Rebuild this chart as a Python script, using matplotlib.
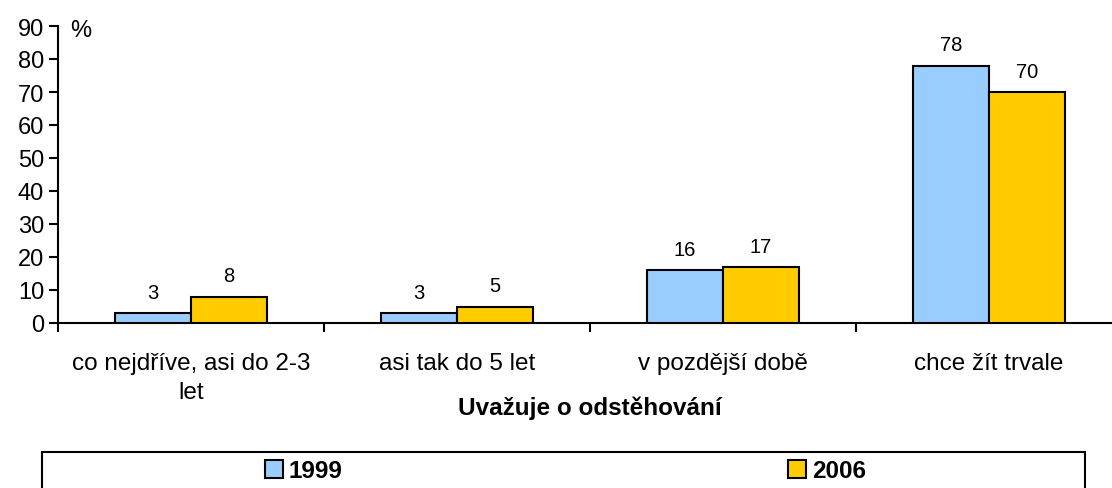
import matplotlib
matplotlib.use("Agg")
import matplotlib.pyplot as plt
from matplotlib.patches import Rectangle, Patch
import numpy as np

categories = ["co nejdříve, asi do 2-3\nlet", "asi tak do 5 let", "v pozdější době", "chce žít trvale"]
series_names = ["1999", "2006"]
values_1999 = [3, 3, 16, 78]
values_2006 = [8, 5, 17, 70]
colors = ["#99CCFF", "#FFCC00"]

plt.rcParams['font.family'] = ['Liberation Sans', 'DejaVu Sans']

W, H = 1112, 489
fig = plt.figure(figsize=(W / 100, H / 100), dpi=100)
ax_left, ax_right = 58 / W, 1122 / W
ax_bottom, ax_top = 1 - 324 / H, 1 - 27 / H
ax = fig.add_axes([ax_left, ax_bottom, ax_right - ax_left, ax_top - ax_bottom])

x = np.arange(len(categories))
bw = 0.286
for i, (vals, name, c) in enumerate(zip([values_1999, values_2006], series_names, colors)):
    pos = x + (i - 0.5) * bw
    ax.bar(pos, vals, width=bw, color=c, edgecolor="black", linewidth=1.5, label=name, zorder=3)
    for p, v in zip(pos, vals):
        ax.annotate(f"{v}", (p, v), xytext=(0, 8), textcoords="offset points",
                    ha="center", va="bottom", fontsize=14.5)

ax.set_xlim(-0.5, len(categories) - 0.5)
ax.set_ylim(0, 90)
ax.set_yticks(np.arange(0, 91, 10))
ax.tick_params(axis="y", labelsize=17, length=6.5, width=1.5, direction="out", pad=3.5)
ax.set_xticks(x)
ax.set_xticklabels(categories, fontsize=17.5, linespacing=1.38)
ax.tick_params(axis="x", length=0, pad=21)
ax.set_xticks(np.arange(-0.5, len(categories), 1.0), minor=True)
ax.tick_params(axis="x", which="minor", length=6.5, width=1.5, direction="out")
for s in ["top", "right"]:
    ax.spines[s].set_visible(False)
for s in ["left", "bottom"]:
    ax.spines[s].set_linewidth(1.5)
fig.text((ax_left + ax_right) / 2, 1 - 415 / H, "Uvažuje o odstěhování", fontsize=17.5,
         fontweight="bold", ha="center", va="baseline")
fig.text(70 / W, 1 - 31 / H, "%", fontsize=17, ha="left", va="center")

# legend frame
fig.patches.append(Rectangle((42 / W, -0.05), (1085 - 42) / W, (1 - 453 / H) + 0.05,
                             transform=fig.transFigure, fill=False, edgecolor="black", linewidth=1.5))
handles = [Patch(facecolor=c, edgecolor="black", linewidth=1.5) for c in colors]
for h, name, cx in zip(handles, series_names, [304 / W, 827 / W]):
    fig.legend([h], [name], loc="center", bbox_to_anchor=(cx, 1 - 472 / H), frameon=False,
               prop={"weight": "bold", "size": 17.5}, handlelength=0.72, handleheight=0.72,
               handletextpad=0.25, borderpad=0)

fig.savefig("out.png", dpi=100)
